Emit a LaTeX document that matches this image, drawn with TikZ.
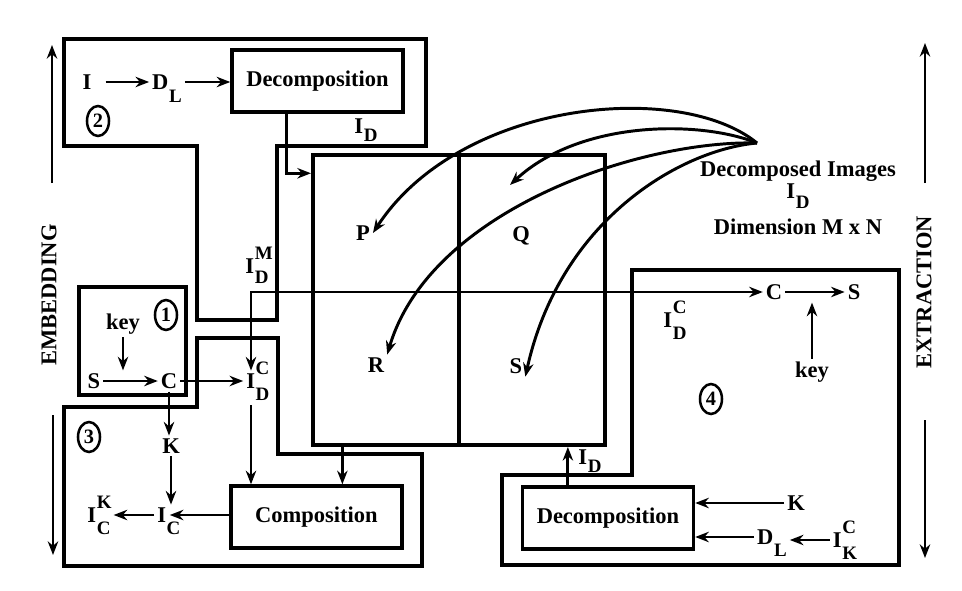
\documentclass[tikz,border=0pt]{standalone}
\usepackage{fontspec}
\setmainfont{Liberation Serif}
\usetikzlibrary{arrows.meta,calc,shapes.geometric}
\newcommand{\FT}{\fontsize{16}{20}\selectfont\bfseries}
\newcommand{\FS}{\fontsize{13.5}{14}\selectfont\bfseries}
\newcommand{\FN}{\fontsize{14.5}{15}\selectfont\bfseries}
% letter with raised and lowered script (script width counted)
\newcommand{\SupSub}[4][0.55em]{#2\kern0.03em\rlap{\smash{\raisebox{0.6em}{\FS #3}}}\smash{\raisebox{-#1}{\FS #4}}}
% same, script width not counted
\newcommand{\SupSubN}[3]{#1\kern0.03em\rlap{\smash{\raisebox{0.6em}{\FS #2}}}\rlap{\smash{\raisebox{-0.55em}{\FS #3}}}}

\begin{document}
\begin{tikzpicture}[x=0.025cm,y=-0.025cm,>={Stealth[length=0.34cm,width=0.26cm,inset=0.11cm]}]
\tikzstyle{texto}=[draw=none,fill=none,black,font=\FT,inner sep=0.07cm]
\tikzstyle{caja}=[draw,line width=2.4pt,minimum width=4.275cm,minimum height=1.55cm,font=\FT]
\tikzstyle{borde}=[line width=2.8pt]
\tikzstyle{flecha}=[line width=2.1pt,->]
\tikzstyle{numero}=[draw,ellipse,line width=1.8pt,inner sep=0pt,minimum width=0.55cm,minimum height=0.75cm,font=\FN]

\useasboundingbox (0,0) rectangle (962,591);

% frames
\draw[borde] (64,39) -- (426,39) -- (426,146) -- (277,146) -- (277,320) -- (197,320) -- (197,146) -- (64,146) -- cycle;
\draw[borde] (79,287) rectangle (186,395);
\draw[borde] (64,407) -- (197,407) -- (197,338) -- (278,338) -- (278,454) -- (422,454) -- (422,566) -- (64,566) -- cycle;
\draw[borde] (632,270) -- (899,270) -- (899,565) -- (502,565) -- (502,475) -- (632,475) -- cycle;

% image square
\node[draw,line width=2.8pt,minimum width=7.3cm,minimum height=7.25cm] (sq) at (459,300) {};
\draw[line width=2.4pt] (sq.north) -- (sq.south);
\node[texto] (P) at (363,233) {P};
\node[texto] (Q) at (521,236) {Q};
\node[texto] (R) at (376,365) {R};
\node[texto] (S) at (516,366) {S};

% embedding side
\node[texto] (iIn) at (87,82) {I};
\node[texto] (dlTop) at (167,82) {\SupSub[0.6em]{D}{}{L}};
\node[caja] (decTop) at (317.5,81) {Decomposition};
\node[numero] (n2) at (98,121) {2};
\node[texto] (idTop) at (366,126) {\SupSub[0.35em]{I}{}{D}};
\node[texto] (idM) at (257,266) {\SupSub[0.45em]{I}{M}{D}};

\node[texto] (key1) at (123,324) {key};
\node[numero] (n1) at (166,315) {1};
\node[texto] (s1) at (94,381) {S};
\node[texto] (c1) at (169,381) {C};
\node[texto] (idC) at (251,381) {\SupSubN{I}{C}{D}};

\node[numero] (n3) at (89,437) {3};
\node[texto] (k3) at (171,446) {K};
\node[texto] (ic3) at (162,515) {\SupSubN{I}{}{C}};
\node[texto] (ick3) at (99,515) {\SupSub{I}{K}{C}};
\node[caja] (comp) at (316.5,517) {Composition};

% extraction side
\node[texto] (c4) at (774,292) {C};
\node[texto] (s4) at (854,292) {S};
\node[texto] (key4) at (812,372) {key};
\node[texto] (idC4) at (675,320) {\SupSub{I}{C}{D}};
\node[numero] (n4) at (711,399) {4};
\node[caja] (decBot) at (608,518) {Decomposition};
\node[texto] (idBot) at (590,457) {\SupSub[0.35em]{I}{}{D}};
\node[texto] (k4) at (796,503) {K};
\node[texto] (dl4) at (772,537) {\SupSub{D}{}{L}};
\node[texto] (ick4) at (845,540) {\SupSub{I}{C}{K}};

\node[texto,align=center] (dimg) at (798,198) {Decomposed Images\\[-0.17cm]\SupSub[0.45em]{I}{}{D}\\[0.2cm]Dimension M x N};

\node[texto,rotate=90] (emb) at (49,295) {EMBEDDING};
\node[texto,rotate=90] (ext) at (924,292) {EXTRACTION};

% points on the boxes
\coordinate (dOut) at ($(decTop.south west)!0.32!(decTop.south east)$);
\coordinate (sqIn) at ($(sq.north west)!0.069!(sq.south west)$);
\coordinate (sqOut) at ($(sq.south west)!0.106!(sq.south east)$);
\coordinate (bOut) at ($(decBot.north west)!0.27!(decBot.north east)$);
\coordinate (fan) at (757,143);
\coordinate (qTip) at (510,185);
\coordinate (embUpA) at (52,183);
\coordinate (embUpB) at (52,45);
\coordinate (embDnA) at (53,415);
\coordinate (embDnB) at (53,555);
\coordinate (extUpA) at (925,183);
\coordinate (extUpB) at (925,43);
\coordinate (extDnA) at (925,420);
\coordinate (extDnB) at (925,558);

% arrows
\draw[flecha,shorten <=0.28cm] (iIn.east) -- (dlTop.west);
\draw[flecha] (dlTop.east) -- (dlTop.east -| decTop.west);
\draw[flecha] (dOut) |- (sqIn);
\draw[flecha] (key1.south) -- (key1.south |- s1.north);
\draw[flecha] (s1.east) -- (c1.west);
\draw[flecha] (c1.east) -- (idC.west);
\draw[flecha] (c1.south) -- (c1.south |- k3.north);
\draw[flecha] (k3.south) -- (k3.south |- ic3.north);
\draw[flecha] (comp.west |- ic3) -- (ic3.east);
\draw[flecha] (ic3.west) -- (ick3.east);
\draw[flecha,shorten <=0.35cm] (idC.south) -- (idC.south |- comp.north);
\draw[flecha] (sqOut) -- (sqOut |- comp.north);
\draw[flecha,<->] (idC.north) |- (c4.west);
\draw[flecha] (c4.east) -- (s4.west);
\draw[flecha] (key4.north) -- (key4.north |- c4.south);
\draw[flecha] (bOut) -- (bOut |- sq.south);
\draw[flecha] (k4.west) -- (k4.west -| decBot.east);
\draw[flecha] (dl4.west) -- (dl4.west -| decBot.east);
\draw[flecha] (ick4.west) -- (ick4.west -| dl4.east);

\draw[flecha] (fan) .. controls (680,80) and (460,100) .. (P.east);
\draw[flecha] (fan) .. controls (700,120) and (580,120) .. (qTip);
\draw[flecha] (fan) .. controls (640,140) and (430,210) .. (R.north east);
\draw[flecha] (fan) .. controls (680,150) and (560,220) .. (S.south east);

\draw[flecha] (embUpA) -- (embUpB);
\draw[flecha] (embDnA) -- (embDnB);
\draw[flecha] (extUpA) -- (extUpB);
\draw[flecha] (extDnA) -- (extDnB);
\end{tikzpicture}
\end{document}
